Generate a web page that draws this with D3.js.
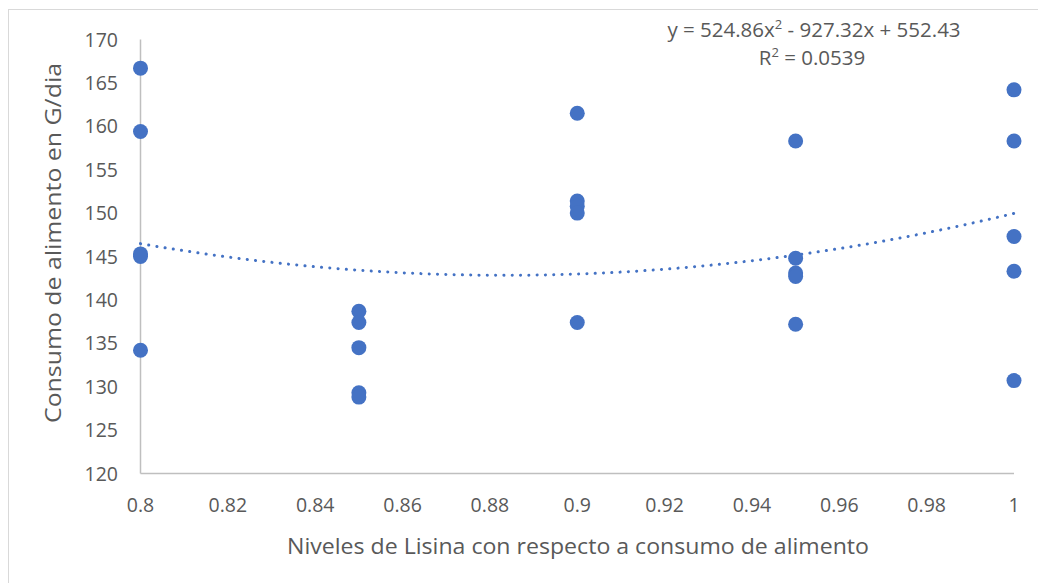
<!DOCTYPE html>
<html lang="es">
<head>
  <meta charset="UTF-8">
  <title>Consumo de alimento vs Niveles de Lisina</title>
  <script src="https://d3js.org/d3.v7.min.js"></script>
  <style>
    body { margin: 0; background: #fff; }
    svg { display: block; font-family: "Open Sans", "Liberation Sans", sans-serif; }
    .lbl { fill: #595959; }
  </style>
</head>
<body>
<svg width="1038" height="583"></svg>

<script>
  // niveles de lisina (x) y consumo de alimento (y)
  const lisina = [0.8, 0.8, 0.8, 0.8, 0.8,
                  0.85, 0.85, 0.85, 0.85, 0.85,
                  0.9, 0.9, 0.9, 0.9, 0.9,
                  0.95, 0.95, 0.95, 0.95, 0.95,
                  1, 1, 1, 1, 1];
  const consumo = [166.7, 159.4, 145.3, 145.0, 134.2,
                   138.7, 137.4, 134.5, 129.3, 128.8,
                   161.5, 151.4, 150.8, 150.0, 137.4,
                   158.3, 144.8, 143.1, 142.7, 137.2,
                   164.2, 158.3, 147.3, 143.3, 130.7];
  const xTicks = [0.8, 0.82, 0.84, 0.86, 0.88, 0.9, 0.92, 0.94, 0.96, 0.98, 1];
  const yTicks = [120, 125, 130, 135, 140, 145, 150, 155, 160, 165, 170];
  // coeficientes de la linea de tendencia polinomica (orden 2)
  const coef = [524.86, -927.32, 552.43];
  const r2 = "0.0539";

  const svg = d3.select("svg");

  // marco del grafico
  svg.append("rect")
    .attr("x", 8.5).attr("y", 9.5)
    .attr("width", 1040).attr("height", 590)
    .attr("fill", "none")
    .attr("stroke", "#d9d9d9");

  const x = d3.scaleLinear().domain([0.8, 1]).range([140.5, 1014]);
  const y = d3.scaleLinear().domain([120, 170]).range([473.5, 39.5]);

  // ejes
  svg.append("line")
    .attr("x1", x(0.8)).attr("x2", x(1))
    .attr("y1", y(120)).attr("y2", y(120))
    .attr("stroke", "#bfbfbf").attr("stroke-width", 1.5);
  svg.append("line")
    .attr("x1", x(0.8)).attr("x2", x(0.8))
    .attr("y1", y(120)).attr("y2", y(170))
    .attr("stroke", "#bfbfbf").attr("stroke-width", 1.5);

  svg.selectAll("text.xt")
    .data(xTicks)
    .join("text")
    .attr("class", "lbl xt")
    .attr("x", d => x(d))
    .attr("y", 512)
    .attr("text-anchor", "middle")
    .attr("font-size", 19.5)
    .text(d => d3.format("")(d));

  svg.selectAll("text.yt")
    .data(yTicks)
    .join("text")
    .attr("class", "lbl yt")
    .attr("x", 118)
    .attr("y", d => y(d) + 7)
    .attr("text-anchor", "end")
    .attr("font-size", 19.5)
    .text(d => d);

  // titulos de ejes
  svg.append("text")
    .attr("class", "lbl")
    .attr("x", 578).attr("y", 554)
    .attr("text-anchor", "middle")
    .attr("font-size", 21.5)
    .attr("textLength", 582)
    .attr("lengthAdjust", "spacingAndGlyphs")
    .text("Niveles de Lisina con respecto a consumo de alimento");

  svg.append("text")
    .attr("class", "lbl")
    .attr("transform", "translate(61,243) rotate(-90)")
    .attr("text-anchor", "middle")
    .attr("font-size", 21.5)
    .attr("textLength", 360)
    .attr("lengthAdjust", "spacingAndGlyphs")
    .text("Consumo de alimento en G/dia");

  // linea de tendencia
  const trend = d3.range(0, 101).map(i => {
    const xv = 0.8 + i * 0.002;
    return [xv, coef[0] * xv * xv + coef[1] * xv + coef[2]];
  });
  svg.append("path")
    .datum(trend)
    .attr("fill", "none")
    .attr("stroke", "#4472c4")
    .attr("stroke-width", 3)
    .attr("stroke-linecap", "round")
    .attr("stroke-dasharray", "0.1 8.2")
    .attr("d", d3.line().x(d => x(d[0])).y(d => y(d[1])));

  // puntos
  svg.selectAll("circle.pt")
    .data(lisina.map((d, i) => [d, consumo[i]]))
    .join("circle")
    .attr("class", "pt")
    .attr("cx", d => x(d[0]))
    .attr("cy", d => y(d[1]))
    .attr("r", 7.5)
    .attr("fill", "#4472c4");

  // ecuacion
  const eq = svg.append("text")
    .attr("class", "lbl")
    .attr("x", 814).attr("y", 37)
    .attr("text-anchor", "middle")
    .attr("font-size", 20.5);
  eq.append("tspan").text("y = 524.86x");
  eq.append("tspan").attr("dy", -8).attr("font-size", 13).text("2");
  eq.append("tspan").attr("dy", 8).text(" - 927.32x + 552.43");

  const rr = svg.append("text")
    .attr("class", "lbl")
    .attr("x", 812).attr("y", 65)
    .attr("text-anchor", "middle")
    .attr("font-size", 20.5);
  rr.append("tspan").text("R");
  rr.append("tspan").attr("dy", -8).attr("font-size", 13).text("2");
  rr.append("tspan").attr("dy", 8).text(" = " + r2);
</script>
</body>
</html>
